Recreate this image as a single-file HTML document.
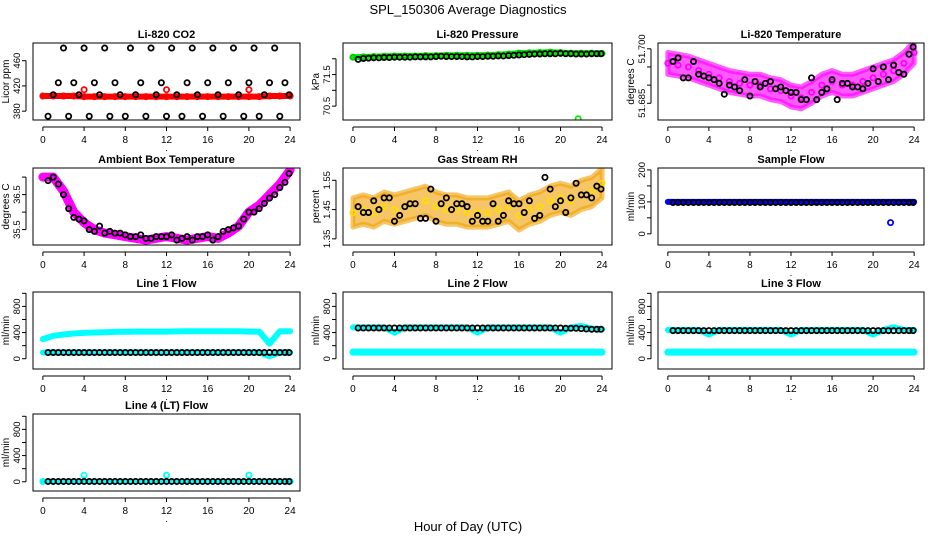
<!DOCTYPE html>
<html><head><meta charset="utf-8">
<style>
html,body{margin:0;padding:0;background:#fff;}
svg{display:block;font-family:"Liberation Sans",Arial,sans-serif;}
</style></head>
<body>
<svg id="chart" width="936" height="540" viewBox="0 0 936 540" xmlns="http://www.w3.org/2000/svg">
<text x="468" y="14" text-anchor="middle" font-size="13">SPL_150306  Average Diagnostics</text>
<text x="468" y="531" text-anchor="middle" font-size="13">Hour of Day (UTC)</text>
</svg>
<script>
// ---- data ----
const hourly = [0,1,2,3,4,5,6,7,8,9,10,11,12,13,14,15,16,17,18,19,20,21,22,23,24];
const halfHours = [0.5,1,1.5,2,2.5,3,3.5,4,4.5,5,5.5,6,6.5,7,7.5,8,8.5,9,9.5,10,10.5,11,11.5,12,12.5,13,13.5,14,14.5,15,15.5,16,16.5,17,17.5,18,18.5,19,19.5,20,20.5,21,21.5,22,22.5,23,23.5,23.9];
const xTicks = [0,4,8,12,16,20,24];

const co2Red = [404,404,404,404,403,403,403,403,403,403,403,403,403,403,403,403,403,403,403,403,403,403,404,404,404];
const co2RedSpikeHours = [4,12,20];
const co2RedSpikes = [414,414,414];
const co2Black = [372,406,425,480,372,425,406,480,372,425,406,480,372,425,406,372,480,406,425,372,480,406,425,372,480,406,372,425,480,406,372,425,480,406,372,425,480,406,372,425,480,372,406,425,480,372,425,406];

const presGreen = [72.05,72.06,72.07,72.08,72.09,72.09,72.09,72.10,72.10,72.11,72.11,72.11,72.11,72.12,72.13,72.15,72.18,72.19,72.20,72.21,72.20,72.18,72.18,72.18,72.17];
const presOutlierHour = [21.7];
const presOutlier = [70.1];
const presBlack = [71.98,72.01,72.02,72.03,72.03,72.04,72.04,72.05,72.05,72.05,72.05,72.06,72.06,72.06,72.06,72.07,72.08,72.07,72.07,72.07,72.07,72.06,72.06,72.07,72.07,72.08,72.08,72.09,72.09,72.10,72.11,72.12,72.13,72.14,72.15,72.15,72.16,72.16,72.16,72.17,72.16,72.16,72.15,72.15,72.15,72.16,72.16,72.16];

const tempMean = [51.6960,51.6955,51.6950,51.6940,51.6930,51.6920,51.6910,51.6905,51.6900,51.6900,51.6890,51.6885,51.6870,51.6865,51.6880,51.6900,51.6910,51.6900,51.6900,51.6910,51.6920,51.6930,51.6940,51.6960,51.6990];
const tempSpread = [0.003,0.003,0.003,0.003,0.003,0.003,0.003,0.003,0.003,0.003,0.003,0.003,0.003,0.003,0.003,0.003,0.003,0.003,0.003,0.003,0.003,0.003,0.003,0.003,0.003];
const tempBlack = [51.6965,51.6975,51.692,51.692,51.6965,51.693,51.6925,51.692,51.6915,51.6905,51.6875,51.690,51.6895,51.6885,51.6915,51.6870,51.6910,51.6895,51.6905,51.6910,51.6890,51.6895,51.6885,51.6880,51.6880,51.6860,51.6860,51.6920,51.6860,51.6880,51.6890,51.6915,51.6860,51.6905,51.6905,51.6895,51.6895,51.6890,51.6905,51.6945,51.6910,51.6950,51.6915,51.6955,51.6935,51.6930,51.6985,51.7005];

const ambMean = [37.0,37.0,36.6,36.0,35.7,35.5,35.4,35.35,35.3,35.25,35.2,35.25,35.3,35.25,35.2,35.25,35.3,35.25,35.4,35.6,36.0,36.2,36.5,36.8,37.2];
const ambBlack = [36.9,37.0,36.8,36.5,36.1,35.85,35.8,35.75,35.5,35.45,35.6,35.4,35.45,35.4,35.4,35.35,35.3,35.3,35.35,35.25,35.25,35.3,35.3,35.3,35.35,35.2,35.25,35.3,35.2,35.3,35.3,35.35,35.2,35.3,35.45,35.5,35.55,35.6,35.8,36.0,36.0,36.1,36.25,36.4,36.5,36.7,36.85,37.1];

const rhMean = [1.44,1.45,1.44,1.46,1.45,1.46,1.47,1.48,1.46,1.45,1.45,1.44,1.44,1.44,1.45,1.46,1.43,1.45,1.46,1.48,1.49,1.48,1.50,1.51,1.54];
const rhSpread = [0.05,0.05,0.05,0.05,0.05,0.05,0.05,0.05,0.05,0.05,0.05,0.05,0.05,0.05,0.05,0.05,0.05,0.05,0.05,0.05,0.05,0.05,0.05,0.05,0.05];
const rhBlack = [1.46,1.44,1.44,1.48,1.45,1.49,1.49,1.41,1.43,1.46,1.47,1.47,1.42,1.42,1.52,1.41,1.47,1.49,1.45,1.47,1.47,1.46,1.41,1.43,1.41,1.41,1.47,1.41,1.43,1.48,1.47,1.47,1.44,1.48,1.42,1.43,1.56,1.52,1.46,1.48,1.44,1.49,1.54,1.50,1.50,1.49,1.53,1.52];

const sampleBlue = [100,100,100,100,100,100,100,100,100,100,100,100,100,100,100,100,100,100,100,100,100,100,100,100,100];
const sampleOutlierHour = [21.7];
const sampleOutlier = [35];
const sampleBlack = [98,98,98,98,98,98,98,98,98,98,98,98,98,98,98,98,98,98,98,98,98,98,98,98,98,98,98,98,98,98,98,98,98,98,98,98,98,98,98,98,98,98,98,98,98,98,98,98];

const l1CyanTop = [300,350,370,385,395,400,405,410,412,415,415,415,415,418,420,420,420,420,420,420,415,415,230,420,420];
const l1CyanBot = [95,95,95,95,95,95,95,95,95,95,95,95,95,95,95,95,95,95,95,95,95,95,40,95,95];
const l1Black = [95,95,95,95,95,95,95,95,95,95,95,95,95,95,95,95,95,95,95,95,95,95,95,95,95,95,95,95,95,95,95,95,95,95,95,95,95,95,95,95,95,95,95,95,95,95,95,95];

const l2CyanTop = [480,480,480,480,400,480,480,480,480,480,480,480,400,480,480,480,480,480,480,480,400,480,500,460,450];
const l2CyanBot = [100,100,100,100,100,100,100,100,100,100,100,100,100,100,100,100,100,100,100,100,100,100,100,100,100];
const l2Black = [470,470,470,470,470,470,470,470,470,470,470,470,470,470,470,470,470,470,470,470,470,470,470,470,470,470,470,470,470,470,470,470,470,470,470,470,470,470,470,470,465,465,465,460,455,450,450,450];

const l3CyanTop = [440,440,440,440,370,440,440,440,440,440,440,440,370,440,440,440,440,440,440,440,370,440,480,440,440];
const l3CyanBot = [100,100,100,100,100,100,100,100,100,100,100,100,100,100,100,100,100,100,100,100,100,100,100,100,100];
const l3Black = [430,430,430,430,430,430,430,430,430,430,430,430,430,430,430,430,430,430,430,430,430,430,430,430,430,430,430,430,430,430,430,430,430,430,430,430,430,430,430,430,430,430,430,430,430,430,430,430];

const l4Cyan = [5,5,5,5,100,5,5,5,5,5,5,5,100,5,5,5,5,5,5,5,100,5,5,5,5];
const l4Black = [5,5,5,5,5,5,5,5,5,5,5,5,5,5,5,5,5,5,5,5,5,5,5,5,5,5,5,5,5,5,5,5,5,5,5,5,5,5,5,5,5,5,5,5,5,5,5,5];

// ---- drawing ----
const NS = "http://www.w3.org/2000/svg";
const svg = document.getElementById('chart');
const colL = [33,343,658], colR = [300,612,924];
const rowT = [43,168,292,414], rowH = 77;
function mk(tag, attrs, parent){ const e=document.createElementNS(NS,tag); for(const k in attrs) e.setAttribute(k,attrs[k]); (parent||svg).appendChild(e); return e; }

function panel(name, c, r, title, ylab, ymin, ymax, yTicks, yLabels){
  const L=colL[c], R=colR[c], T=rowT[r], B=rowT[r]+rowH;
  const g = mk('g',{});
  
  
  const sx = v => L + (v+0.96)/25.92*(R-L);
  const sy = v => B - (v-ymin)/(ymax-ymin)*(B-T);
  const t = mk('text',{x:(L+R)/2,y:T-5,'text-anchor':'middle','font-size':11,'font-weight':'bold'},g);
  t.textContent = title;
  
  
  const yl = mk('text',{x:0,y:0,'text-anchor':'middle','font-size':10,transform:`translate(${L-24},${(T+B)/2}) rotate(-90)`},g);
  yl.textContent = ylab;
  
  
  const xa = mk('g',{},g);
  
  
  mk('line',{x1:sx(xTicks[0]),x2:sx(xTicks[xTicks.length-1]),y1:B+7,y2:B+7,stroke:'#000'},xa);
  xTicks.forEach(v=>{
    mk('line',{x1:sx(v),x2:sx(v),y1:B+7,y2:B+11,stroke:'#000'},xa);
    const tx = mk('text',{x:sx(v),y:B+23,'text-anchor':'middle','font-size':10},xa);
    tx.textContent = v;
  });
  mk('text',{x:(L+R)/2,y:B+31,'text-anchor':'middle','font-size':9},xa).textContent='.';
  const ya = mk('g',{},g);
  
  
  mk('line',{x1:L-7,x2:L-7,y1:sy(yTicks[0]),y2:sy(yTicks[yTicks.length-1]),stroke:'#000'},ya);
  yTicks.forEach((v,i)=>{
    mk('line',{x1:L-11,x2:L-7,y1:sy(v),y2:sy(v),stroke:'#000'},ya);
    if(yLabels[i]){
      const tx = mk('text',{x:0,y:0,'text-anchor':'middle','font-size':9.5,transform:`translate(${L-13},${sy(v)}) rotate(-90)`},ya);
      tx.textContent = yLabels[i];
    }
  });
  const clipId = 'clip-'+name;
  const cp = mk('clipPath',{id:clipId},g);
  mk('rect',{x:L,y:T,width:R-L,height:B-T},cp);
  const plot = mk('g',{'clip-path':`url(#${clipId})`},g);
  mk('rect',{x:L,y:T,width:R-L,height:B-T,fill:'none',stroke:'#000','stroke-width':1},g);
  return {sx,sy,plot};
}
function band(p, name, xs, mean, spread, fill, op){
  let d='';
  xs.forEach((x,i)=>{ d += (i?'L':'M')+p.sx(x)+','+p.sy(mean[i]+spread[i]); });
  for(let i=xs.length-1;i>=0;i--) d += 'L'+p.sx(xs[i])+','+p.sy(mean[i]-spread[i]);
  const e = mk('path',{d:d+'Z',fill:fill,'fill-opacity':op,stroke:fill,'stroke-opacity':op,'stroke-width':5,'stroke-linejoin':'round'},p.plot);
  
  
}
function thick(p, name, xs, ys, color, w){
  const pts = xs.map((x,i)=>p.sx(x)+','+p.sy(ys[i])).join(' ');
  const e = mk('polyline',{points:pts,fill:'none',stroke:color,'stroke-width':w,'stroke-linecap':'round','stroke-linejoin':'round'},p.plot);
  
  
}
function pts(p, name, xs, ys, color){
  const g = mk('g',{},p.plot);
  
  
  xs.forEach((x,i)=>{
    const c = mk('circle',{cx:p.sx(x),cy:p.sy(ys[i]),r:2.6,fill:'none',stroke:color,'stroke-width':1.8},g);
    
    
  });
}

let p = panel('co2',0,0,'Li-820 CO2','Licor ppm',366,488,[380,420,460],['380','420','460']);
thick(p,'co2-red-band',hourly,co2Red,'#ff0000',6);
pts(p,'co2-red-series',hourly,co2Red,'#ff0000');
pts(p,'co2-red-spikes',co2RedSpikeHours,co2RedSpikes,'#ff0000');
pts(p,'co2-black-series',halfHours,co2Black,'#000');

p = panel('pressure',1,0,'Li-820 Pressure','kPa',70.06,72.5,[70.5,71,71.5,72],['70.5','','71.5','']);
thick(p,'pressure-green-band',hourly,presGreen,'#00ee00',6);
pts(p,'pressure-green-series',hourly,presGreen,'#00cc00');
pts(p,'pressure-green-outlier',presOutlierHour,presOutlier,'#00ee00');
pts(p,'pressure-black-series',halfHours,presBlack,'#000');

p = panel('li820-temp',2,0,'Li-820 Temperature','degrees C',51.6804,51.7016,[51.685,51.690,51.695,51.700],['51.685','','','51.700']);
band(p,'temp-magenta-cloud',hourly,tempMean,tempSpread,'#ff00ff',0.65);
pts(p,'temp-magenta-series',hourly,tempMean,'#ff00ff');
pts(p,'temp-black-series',halfHours,tempBlack,'#000');

p = panel('ambient',0,1,'Ambient Box Temperature','degrees C',35.06,37.26,[35.5,36,36.5,37],['35.5','','36.5','']);
thick(p,'ambient-magenta-band',hourly,ambMean,'#ff00ff',9);
pts(p,'ambient-black-series',halfHours,ambBlack,'#000');

p = panel('rh',1,1,'Gas Stream RH','percent',1.329,1.592,[1.35,1.45,1.55],['1.35','1.45','1.55']);
band(p,'rh-orange-cloud',hourly,rhMean,rhSpread,'#f0a000',0.6);
pts(p,'rh-yellow-series',hourly,rhMean,'#ffdd00');
pts(p,'rh-black-series',halfHours,rhBlack,'#000');

p = panel('sample-flow',2,1,'Sample Flow','ml/min',-35,206,[0,50,100,150,200],['0','','100','','200']);
thick(p,'sample-blue-band',hourly,sampleBlue,'#0000ff',6);
pts(p,'sample-blue-outlier',sampleOutlierHour,sampleOutlier,'#0000ff');
pts(p,'sample-black-series',halfHours,sampleBlack,'#000');

const flowTicks=[0,200,400,600,800,1000], flowLabels=['0','','400','','800',''];
p = panel('line1',0,2,'Line 1 Flow','ml/min',-157,1020,flowTicks,flowLabels);
thick(p,'line1-cyan-top',hourly,l1CyanTop,'#00ffff',6);
thick(p,'line1-cyan-bottom',hourly,l1CyanBot,'#00ffff',6);
pts(p,'line1-black-series',halfHours,l1Black,'#000');

p = panel('line2',1,2,'Line 2 Flow','ml/min',-157,1020,flowTicks,flowLabels);
thick(p,'line2-cyan-top',hourly,l2CyanTop,'#00ffff',6);
thick(p,'line2-cyan-bottom',hourly,l2CyanBot,'#00ffff',7);
pts(p,'line2-black-series',halfHours,l2Black,'#000');

p = panel('line3',2,2,'Line 3 Flow','ml/min',-157,1020,flowTicks,flowLabels);
thick(p,'line3-cyan-top',hourly,l3CyanTop,'#00ffff',6);
thick(p,'line3-cyan-bottom',hourly,l3CyanBot,'#00ffff',7);
pts(p,'line3-black-series',halfHours,l3Black,'#000');

p = panel('line4',0,3,'Line 4 (LT) Flow','ml/min',-141,1035,flowTicks,flowLabels);
thick(p,'line4-cyan-band',hourly,l4Cyan.map(v=>5),'#00ffff',5);
pts(p,'line4-cyan-series',hourly,l4Cyan,'#00ffff');
pts(p,'line4-black-series',halfHours,l4Black,'#000');
</script>
</body></html>
